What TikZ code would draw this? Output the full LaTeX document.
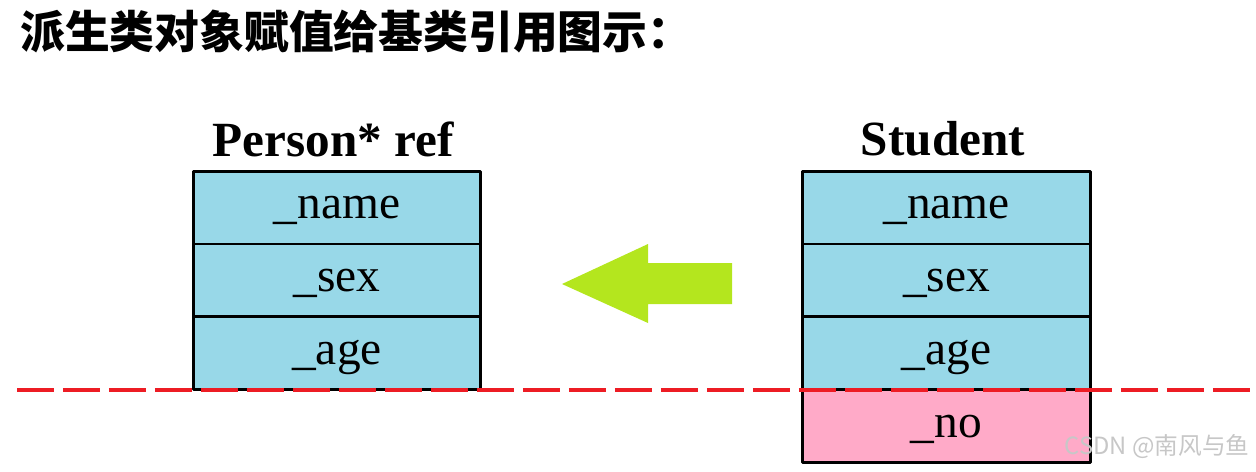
\documentclass[tikz,border=0pt]{standalone}
\usepackage{fontspec}
\setmainfont{Liberation Serif}
\newfontfamily\cjk{Noto Sans CJK SC}
\usetikzlibrary{positioning}
\definecolor{fieldblue}{RGB}{152,216,232}
\definecolor{fieldpink}{RGB}{255,170,200}
\definecolor{arrowgreen}{RGB}{180,230,30}
\definecolor{cutred}{RGB}{237,28,36}
\begin{document}
\begin{tikzpicture}[x=0.02cm, y=-0.02cm, line join=round,
	field/.style={draw, line width=1.7pt, outer sep=0pt, minimum width=5.76cm, minimum height=1.46cm, font=\fontsize{27}{30}\selectfont},
	blue field/.style={field, fill=fieldblue},
	pink field/.style={field, fill=fieldpink},
	boxtitle/.style={font=\fontsize{28}{32}\selectfont\bfseries}]
	\useasboundingbox (0,0) rectangle (1256,471);
	\node[anchor=west, inner sep=0pt, font=\cjk\bfseries\fontsize{25.5}{30}\selectfont] (title) at (20,31) {派生类对象赋值给基类引用图示：};
	% base class reference
	\node[boxtitle] (reftitle) at (333,139) {Person* ref};
	\node[blue field] (pname) at (337,207.5) {\_name\strut};
	\node[blue field, below=0pt of pname] (psex) {\_sex\strut};
	\node[blue field, below=0pt of psex] (page) {\_age\strut};
	% derived object
	\node[boxtitle] (stutitle) at (943,139) {Student};
	\node[blue field] (sname) at (946.5,207.5) {\_name\strut};
	\node[blue field, below=0pt of sname] (ssex) {\_sex\strut};
	\node[blue field, below=0pt of ssex] (sage) {\_age\strut};
	\node[pink field, below=0pt of sage] (sno) {\_no\strut};
	% big arrow
	\fill[arrowgreen] (562,284) -- (648,244) -- (648,263) -- (732,263) -- (732,304) -- (648,304) -- (648,323) -- cycle;
	% cut line
	\coordinate (cutL) at (17,390);
	\coordinate (cutR) at (1252,390);
	\draw[cutred, line width=2.8pt, dash pattern=on 0.74cm off 0.18cm] (cutL) -- (cutR);
	\node[anchor=east, inner sep=0pt, text=black!22, font=\cjk\fontsize{13.5}{16}\selectfont] (mark) at (1250,447) {CSDN @南风与鱼};
\end{tikzpicture}
\end{document}
